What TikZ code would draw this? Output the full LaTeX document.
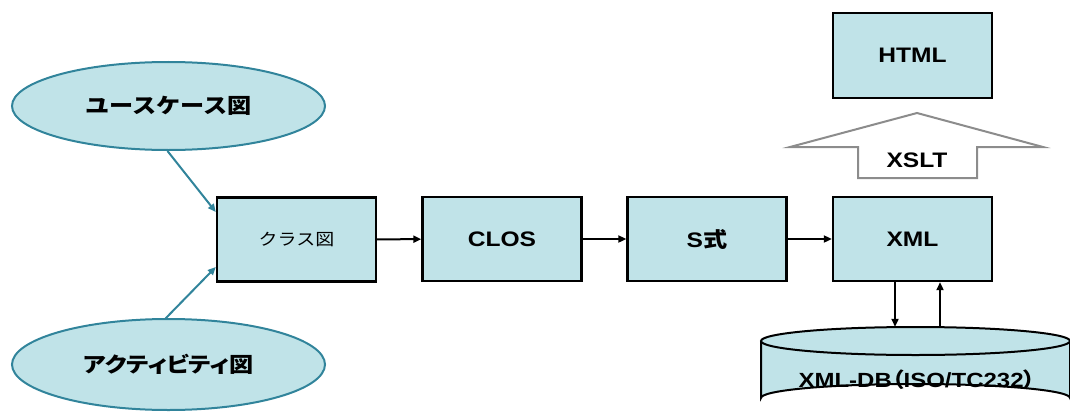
\documentclass[tikz,border=0pt]{standalone}
\usepackage{fontspec}
\setmainfont[FakeStretch=1.17]{Liberation Sans}
\newfontfamily\jp[FakeStretch=1.15]{Noto Sans CJK JP}
\newfontfamily\jpp[FakeStretch=1.15,RawFeature=+palt]{Noto Sans CJK JP}
\usetikzlibrary{arrows.meta,calc,shapes.geometric}
\definecolor{boxfill}{HTML}{C0E3E8}
\definecolor{teal}{HTML}{31849B}
\definecolor{arrgray}{HTML}{8C8C8C}
\begin{document}
\begin{tikzpicture}[x=1pt,y=-1pt,
  box/.style={draw=black,line width=2.4pt,fill=boxfill,minimum width=159pt,minimum height=84pt,inner sep=0pt,font=\fontsize{21}{24}\selectfont\bfseries},
  oval/.style={ellipse,draw=teal,line width=2pt,fill=boxfill,minimum width=313pt,inner sep=0pt,font=\fontsize{21}{24}\selectfont\jp\bfseries},
  arr/.style={line width=2pt,-{Triangle[length=8pt,width=7pt]}},
  tarr/.style={draw=teal,line width=2pt,-{Triangle[length=8pt,width=7pt]},teal}]
\useasboundingbox (0,0) rectangle (1070,412);
% ovals
\node[oval,minimum height=88pt] (uc) at (168.5,106) {ユースケース図};
\node[oval,minimum height=91pt,font=\fontsize{21}{24}\selectfont\jpp\bfseries] (act) at (168.5,364.5) {アクティビティ図};
% boxes
\node[box,font=\fontsize{16.5}{20}\selectfont\jp] (cls) at (296.5,239.5) {クラス図};
\node[box] (clos) at (502,239) {CLOS};
\node[box] (sexp) at (707,239) {S{\jp 式}};
\node[box] (xml) at (912.5,239) {XML};
\node[box,minimum height=85pt] (html) at (912.5,55.5) {HTML};
% XSLT arrow
\draw[draw=arrgray,line width=2pt,fill=white,line join=miter]
  (917,113) -- (1043,147) -- (977,147) -- (977,178) -- (858,178) -- (858,147) -- (790,147) -- cycle;
\node[font=\fontsize{21}{24}\selectfont\bfseries] (xslt) at (917,160) {XSLT};
% cylinder
\fill[boxfill] (761,341) -- (761,398) arc[start angle=180,end angle=360,x radius=154.5,y radius=14] -- (1070,341) arc[start angle=0,end angle=180,x radius=154.5,y radius=14];
\draw[line width=2pt] (761,341) -- (761,398) arc[start angle=180,end angle=360,x radius=154.5,y radius=14] -- (1070,341);
\draw[line width=2pt,fill=boxfill] (915.5,341) ellipse[x radius=154.5,y radius=14];
\node[inner sep=0pt,minimum width=309pt,minimum height=0pt] (dbtop) at (915.5,327) {};
\node[font=\fontsize{20.5}{24}\selectfont\bfseries] (db) at (917,380) {XML-DB{\jpp （}ISO/TC232{\jpp ）}};
% connectors
\draw[tarr] (uc.south) ++(-1,0) -- (cls.west |- 0,212);
\draw[tarr] (act) ++(-3,-46) -- (cls.west |- 0,267);
\draw[arr] (cls) -- (clos);
\draw[arr] (clos) -- (sexp);
\draw[arr] (sexp) -- (xml);
\draw[arr] ([xshift=-17.5pt]xml.south) -- ([xshift=-17.5pt]xml.south |- dbtop.north);
\draw[arr] ([xshift=27.5pt]xml.south |- dbtop.north) -- ([xshift=27.5pt]xml.south);
\end{tikzpicture}
\end{document}
